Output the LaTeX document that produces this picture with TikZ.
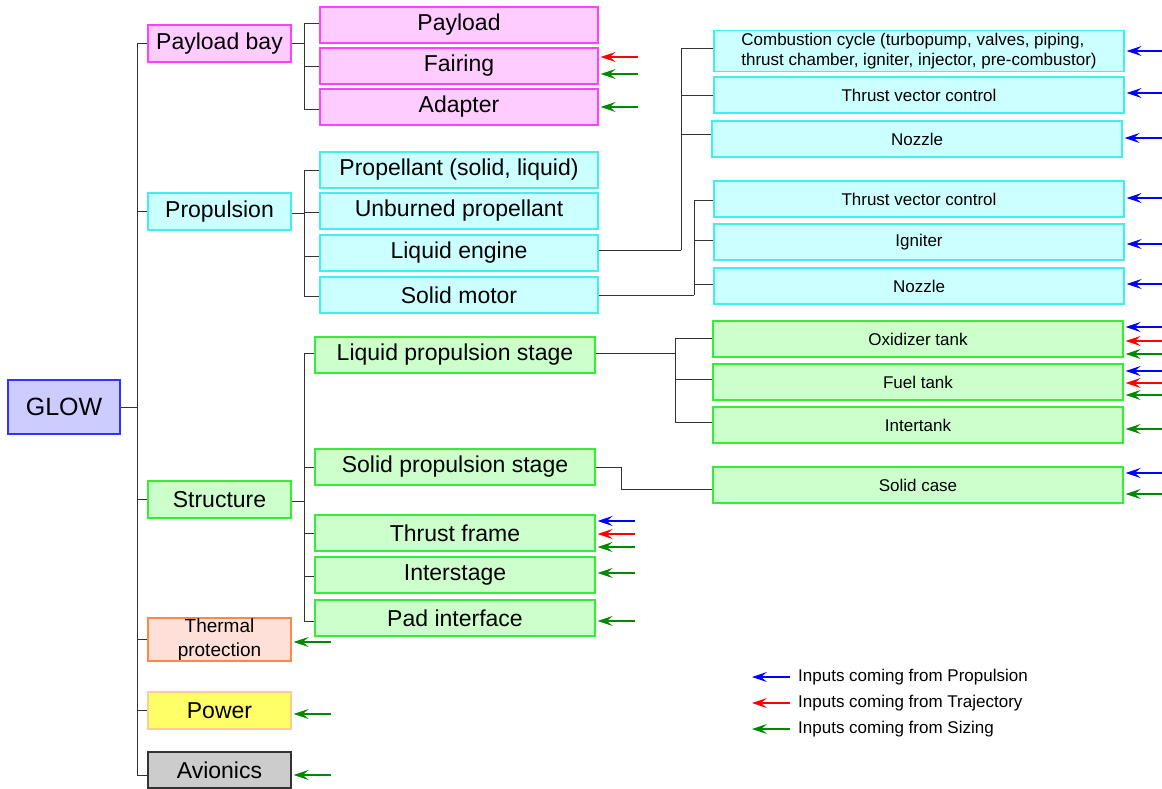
\documentclass[tikz,border=0pt]{standalone}
\usepackage{fontspec}
\setmainfont{Liberation Sans}
\usetikzlibrary{arrows.meta}
\definecolor{pkF}{HTML}{FFCCFF}\definecolor{pkD}{HTML}{FF40FF}
\definecolor{cyF}{HTML}{CCFFFF}\definecolor{cyD}{HTML}{40F0F0}
\definecolor{grF}{HTML}{CCFFCC}\definecolor{grD}{HTML}{33EE33}
\definecolor{glF}{HTML}{CCCCFF}\definecolor{glD}{HTML}{3333FF}
\definecolor{thF}{HTML}{FFE0D8}\definecolor{thD}{HTML}{FF8844}
\definecolor{pwF}{HTML}{FFFF66}\definecolor{pwD}{HTML}{FFCC99}
\definecolor{avF}{HTML}{CCCCCC}\definecolor{avD}{HTML}{333333}
\definecolor{aB}{HTML}{0000FF}\definecolor{aR}{HTML}{FF0000}\definecolor{aG}{HTML}{008800}
\tikzset{
  box/.style={draw, line width=1.4pt, inner sep=0pt, anchor=center, text=black, align=center},
  pk/.style={box, fill=pkF, draw=pkD},
  cy/.style={box, fill=cyF, draw=cyD},
  gr/.style={box, fill=grF, draw=grD},
  bigtxt/.style={font=\fontsize{23}{27}\selectfont},
  smalltxt/.style={font=\fontsize{17}{21}\selectfont},
  lone/.style={minimum width=143pt, minimum height=37pt},
  ltwo/.style={minimum width=278pt, minimum height=36pt},
  lst/.style={minimum width=280pt, minimum height=36pt},
  lthree/.style={minimum width=410pt, minimum height=36pt},
  conn/.style={draw=black!80, line width=0.9pt},
  inarr/.style={-{Stealth[length=15pt,width=10pt,inset=6pt]}, line width=1.1pt},
}
\newcommand\arrR[3]{\draw[inarr,#1] ([yshift=#3pt]#2.east -| redge) -- ([xshift=2pt,yshift=#3pt]#2.east);}
\newcommand\arrL[3]{\draw[inarr,#1] ([xshift=39pt,yshift=#3pt]#2.east) -- ([xshift=2pt,yshift=#3pt]#2.east);}
\begin{document}
\begin{tikzpicture}[x=1pt,y=-1pt]
\useasboundingbox (0,0) rectangle (1162,789);
\coordinate (redge) at (1162,0);
\coordinate (tr) at (137,0);
\coordinate (jpb) at (304,0);
\coordinate (jst) at (304,0);
\coordinate (jle) at (681,0);
\coordinate (jsm) at (694,0);
\coordinate (jlps) at (675,0);
\coordinate (jsps) at (621,0);

% root
\node[box, fill=glF, draw=glD, minimum width=112pt, minimum height=54pt, font=\fontsize{25}{29}\selectfont] (glow) at (64,407) {GLOW};

% level 1
\node[pk, lone, bigtxt] (pbay) at (219.5,43.5) {Payload bay};
\node[cy, lone, bigtxt] (prop) at (219.5,211.5) {Propulsion};
\node[gr, lone, bigtxt] (struct) at (219.5,499.5) {Structure};
\node[box, fill=thF, draw=thD, minimum width=143pt, minimum height=43pt, font=\fontsize{19}{24}\selectfont] (therm) at (219.5,639.5) {Thermal\\protection};
\node[box, fill=pwF, draw=pwD, lone, bigtxt] (power) at (219.5,710.5) {Power};
\node[box, fill=avF, draw=avD, minimum width=143pt, minimum height=36pt, bigtxt] (avion) at (219.5,770) {Avionics};

% payload bay children
\node[pk, ltwo, bigtxt] (payload) at (459,25) {Payload};
\node[pk, ltwo, bigtxt] (fairing) at (459,66) {Fairing};
\node[pk, ltwo, bigtxt] (adapter) at (459,107) {Adapter};

% propulsion children
\node[cy, ltwo, bigtxt] (propel) at (459,170) {Propellant (solid, liquid)};
\node[cy, ltwo, bigtxt] (unburn) at (459,211) {Unburned propellant};
\node[cy, ltwo, bigtxt] (le) at (459,253) {Liquid engine};
\node[cy, ltwo, bigtxt] (sm) at (459,295) {Solid motor};

% liquid engine children
\node[cy, lthree, smalltxt] (comb) at (919,51) {\begin{tabular}{@{}l@{}}Combustion cycle (turbopump, valves, piping,\\[-1pt]thrust chamber, igniter, injector, pre-combustor)\end{tabular}};
\node[cy, lthree, smalltxt] (tvca) at (919,95) {Thrust vector control};
\node[cy, lthree, smalltxt] (noza) at (917,139) {Nozzle};

% solid motor children
\node[cy, lthree, smalltxt] (tvcb) at (919,199) {Thrust vector control};
\node[cy, lthree, smalltxt] (ign) at (919,242) {Igniter};
\node[cy, lthree, smalltxt] (nozb) at (919,286) {Nozzle};

% structure children
\node[gr, lst, bigtxt] (lps) at (455,355) {Liquid propulsion stage};
\node[gr, lst, bigtxt] (sps) at (455,467) {Solid propulsion stage};
\node[gr, lst, bigtxt] (tframe) at (455,533) {Thrust frame};
\node[gr, lst, bigtxt] (istage) at (455,575) {Interstage};
\node[gr, lst, bigtxt] (padif) at (455,618) {Pad interface};

% liquid propulsion stage children
\node[gr, lthree, smalltxt] (ox) at (918,339) {Oxidizer tank};
\node[gr, lthree, smalltxt] (fuel) at (918,382) {Fuel tank};
\node[gr, lthree, smalltxt] (itank) at (918,425) {Intertank};
\node[gr, lthree, smalltxt] (scase) at (918,485) {Solid case};

% trunk
\draw[conn] (glow.east) -- (glow.east -| tr);
\draw[conn] (pbay.west -| tr) -- ([yshift=-5pt]avion.west -| tr);
\draw[conn] (pbay.west -| tr) -- (pbay.west);
\draw[conn] (prop.west -| tr) -- (prop.west);
\draw[conn] (struct.west -| tr) -- (struct.west);
\draw[conn] (therm.west -| tr) -- (therm.west);
\draw[conn] (power.west -| tr) -- (power.west);
\draw[conn] ([yshift=-5pt]avion.west -| tr) -- ([yshift=-5pt]avion.west);

% payload bay
\draw[conn] (pbay.east) -- (pbay.east -| jpb);
\draw[conn] ([yshift=2pt]payload.west -| jpb) -- ([yshift=-2pt]adapter.west -| jpb);
\draw[conn] ([yshift=2pt]payload.west -| jpb) -- ([yshift=2pt]payload.west);
\draw[conn] (fairing.west -| jpb) -- (fairing.west);
\draw[conn] ([yshift=-2pt]adapter.west -| jpb) -- ([yshift=-2pt]adapter.west);

% propulsion
\draw[conn] ([yshift=-1.5pt]prop.east) -- ([yshift=-1.5pt]prop.east -| jpb);
\draw[conn] (propel.west -| jpb) -- ([yshift=-1pt]sm.west -| jpb);
\draw[conn] (propel.west -| jpb) -- (propel.west);
\draw[conn] ([yshift=-1pt]unburn.west -| jpb) -- ([yshift=-1pt]unburn.west);
\draw[conn] ([yshift=-3pt]le.west -| jpb) -- ([yshift=-3pt]le.west);
\draw[conn] ([yshift=-1pt]sm.west -| jpb) -- ([yshift=-1pt]sm.west);

% liquid engine
\draw[conn] ([yshift=3pt]le.east) -- ([yshift=3pt]le.east -| jle);
\draw[conn] ([yshift=3pt]comb.west -| jle) -- ([yshift=3pt]le.east -| jle);
\draw[conn] ([yshift=3pt]comb.west -| jle) -- ([yshift=3pt]comb.west);
\draw[conn] (tvca.west -| jle) -- (tvca.west);
\draw[conn] ([yshift=5pt]noza.west -| jle) -- ([yshift=5pt]noza.west);

% solid motor
\draw[conn] (sm.east) -- (sm.east -| jsm);
\draw[conn] ([yshift=-1pt]tvcb.west -| jsm) -- (sm.east -| jsm);
\draw[conn] ([yshift=-1pt]tvcb.west -| jsm) -- ([yshift=-1pt]tvcb.west);
\draw[conn] ([yshift=2pt]ign.west -| jsm) -- ([yshift=2pt]ign.west);
\draw[conn] ([yshift=2pt]nozb.west -| jsm) -- ([yshift=2pt]nozb.west);

% structure
\draw[conn] ([yshift=-2pt]struct.east) -- ([yshift=-2pt]struct.east -| jst);
\draw[conn] ([yshift=2pt]lps.west -| jst) -- ([yshift=-3pt]padif.west -| jst);
\draw[conn] ([yshift=2pt]lps.west -| jst) -- ([yshift=2pt]lps.west);
\draw[conn] (sps.west -| jst) -- (sps.west);
\draw[conn] (tframe.west -| jst) -- (tframe.west);
\draw[conn] ([yshift=-1pt]istage.west -| jst) -- ([yshift=-1pt]istage.west);
\draw[conn] ([yshift=-3pt]padif.west -| jst) -- ([yshift=-3pt]padif.west);

% liquid propulsion stage
\draw[conn] ([yshift=2pt]lps.east) -- ([yshift=2pt]lps.east -| jlps);
\draw[conn] ([yshift=1pt]ox.west -| jlps) -- ([yshift=3pt]itank.west -| jlps);
\draw[conn] ([yshift=1pt]ox.west -| jlps) -- ([yshift=1pt]ox.west);
\draw[conn] ([yshift=3pt]fuel.west -| jlps) -- ([yshift=3pt]fuel.west);
\draw[conn] ([yshift=3pt]itank.west -| jlps) -- ([yshift=3pt]itank.west);

% solid propulsion stage
\draw[conn] (sps.east) -- (sps.east -| jsps) |- ([yshift=-4pt]scase.west);

% input arrows (right edge)
\arrR{aB}{comb}{0}
\arrR{aB}{tvca}{2}
\arrR{aB}{noza}{1}
\arrR{aB}{tvcb}{1}
\arrR{aB}{ign}{-2}
\arrR{aB}{nozb}{2}
\arrR{aB}{ox}{12}
\arrR{aR}{ox}{-2}
\arrR{aG}{ox}{-15}
\arrR{aB}{fuel}{11}
\arrR{aR}{fuel}{-1}
\arrR{aG}{fuel}{-13}
\arrR{aG}{itank}{-4}
\arrR{aB}{scase}{12}
\arrR{aG}{scase}{-9}

% input arrows (short)
\arrL{aR}{fairing}{9}
\arrL{aG}{fairing}{-8}
\arrL{aG}{adapter}{0}
\arrL{aB}{tframe}{12}
\arrL{aR}{tframe}{-1}
\arrL{aG}{tframe}{-14}
\arrL{aG}{istage}{2}
\arrL{aG}{padif}{-3}
\arrL{aG}{therm}{-2.5}
\arrL{aG}{power}{-3.5}
\arrL{aG}{avion}{-5}

% legend
\node[anchor=west, inner sep=0pt, font=\fontsize{17}{21}\selectfont] (lg1) at (798,677) {Inputs coming from Propulsion};
\node[anchor=west, inner sep=0pt, font=\fontsize{17}{21}\selectfont] (lg2) at (798,703) {Inputs coming from Trajectory};
\node[anchor=west, inner sep=0pt, font=\fontsize{17}{21}\selectfont] (lg3) at (798,729) {Inputs coming from Sizing};
\draw[inarr,aB] ([xshift=-8pt]lg1.west) -- ++(-38,0);
\draw[inarr,aR] ([xshift=-8pt]lg2.west) -- ++(-38,0);
\draw[inarr,aG] ([xshift=-8pt]lg3.west) -- ++(-38,0);
\end{tikzpicture}
\end{document}
